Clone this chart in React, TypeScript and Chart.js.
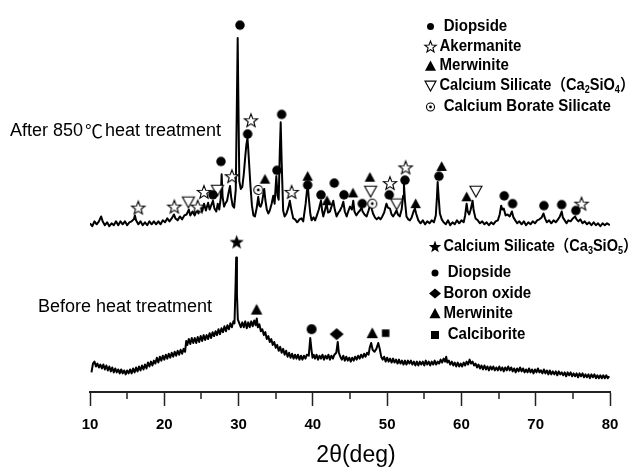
import { useEffect, useRef } from 'react';
import { Chart, registerables } from 'chart.js';

Chart.register(...registerables);

const FONT = "Arial, 'Liberation Sans', Helvetica, 'Noto Sans CJK SC', sans-serif";
const CJK_FONT = "'Noto Sans CJK SC', 'Noto Sans CJK JP', sans-serif";

// 2θ axis
const X_MIN = 10;
const X_MAX = 80;
const X_STEP = 10;
const minorTickValues = [15, 25, 35, 45, 55, 65, 75];
const Y_MAX = 392;

// After 850 ℃ heat treatment: [2θ (deg), intensity (a.u., offset)]
const afterScan: number[][] = [
  [10.0,172],[10.3,169],[10.6,174],[10.9,171],[11.2,174],[11.5,179],[11.7,174],[12.0,170],[12.3,173],[12.6,169],
  [12.9,172],[13.2,170],[13.5,174],[13.8,170],[14.1,174],[14.4,171],[14.7,174],[15.0,170],[15.3,173],[15.6,174],
  [15.9,176],[16.05,180],[16.2,175],[16.5,171],[16.8,174],[17.1,170],[17.4,173],[17.7,170],[18.0,174],[18.3,171],
  [18.6,174],[18.9,171],[19.2,174],[19.5,171],[19.8,175],[20.1,173],[20.4,177],[20.7,174],[21.0,177],[21.3,181],
  [21.5,177],[21.8,175],[22.1,179],[22.4,176],[22.7,180],[23.0,181],[23.3,186],[23.5,180],[23.8,184],[24.1,180],
  [24.4,186],[24.6,182],[24.85,189],[25.1,184],[25.35,192],[25.6,185],[25.9,193],[26.1,186],[26.35,191],[26.55,195],
  [26.75,187],[27.0,184],[27.2,192],[27.4,186],[27.6,198],[27.72,222],[27.85,199],[28.05,189],[28.2,192],[28.45,195],
  [28.65,203],[28.85,210],[29.0,199],[29.2,190],[29.4,188],[29.62,206],[29.78,300],[29.88,361],[29.97,300],[30.1,215],
  [30.3,207],[30.5,209],[30.7,222],[30.9,240],[31.05,252],[31.2,259],[31.3,248],[31.45,229],[31.6,210],[31.8,190],
  [32.0,180],[32.2,179],[32.45,188],[32.65,199],[32.8,190],[32.97,189],[33.15,193],[33.45,207],[33.6,196],[33.8,186],
  [34.0,182],[34.2,185],[34.45,192],[34.67,200],[34.85,192],[35.08,220],[35.25,200],[35.4,196],[35.55,245],[35.67,275],
  [35.8,235],[36.0,185],[36.2,179],[36.45,182],[36.7,188],[36.9,195],[37.1,186],[37.36,177],[37.6,176],[37.9,173],
  [38.2,176],[38.45,177],[38.7,174],[39.03,192],[39.2,205],[39.3,212],[39.45,198],[39.65,182],[39.83,175],[40.1,178],
  [40.3,175],[40.5,179],[40.8,186],[41.09,195],[41.25,185],[41.4,179],[41.65,186],[41.85,192],[42.05,183],[42.3,184],
  [42.55,190],[42.75,195],[42.95,186],[43.2,179],[43.45,183],[43.65,185],[43.9,189],[44.1,194],[44.3,184],[44.55,179],
  [44.8,185],[45.0,189],[45.25,186],[45.44,195],[45.6,184],[45.85,180],[46.1,183],[46.34,185],[46.55,188],[46.7,184],
  [46.95,181],[47.24,179],[47.5,185],[47.77,192],[47.95,186],[48.1,182],[48.35,178],[48.6,176],[48.85,178],[49.1,176],
  [49.35,179],[49.6,183],[49.9,192],[50.1,188],[50.38,187],[50.6,181],[50.8,179],[51.05,182],[51.26,185],[51.45,181],
  [51.7,179],[51.95,186],[52.15,200],[52.26,212],[52.4,195],[52.6,179],[52.85,176],[53.07,175],[53.3,178],[53.55,184],
  [53.74,187],[53.9,182],[54.2,175],[54.5,172],[54.8,175],[55.1,171],[55.4,174],[55.7,172],[56.0,175],[56.3,173],
  [56.55,180],[56.7,198],[56.8,214],[56.92,200],[57.1,182],[57.35,176],[57.6,173],[57.9,171],[58.2,175],[58.5,170],
  [58.8,173],[59.1,171],[59.4,175],[59.7,172],[60.0,175],[60.3,173],[60.5,180],[60.7,192],[60.85,184],[61.05,181],
  [61.25,186],[61.5,195],[61.65,185],[61.9,177],[62.2,175],[62.5,172],[62.8,174],[63.1,171],[63.4,173],[63.7,170],
  [64.0,173],[64.3,171],[64.6,174],[64.9,175],[65.15,181],[65.35,190],[65.5,186],[65.7,187],[65.95,180],[66.2,181],
  [66.5,179],[66.8,184],[67.0,178],[67.25,175],[67.5,172],[67.8,174],[68.1,171],[68.4,174],[68.7,170],[69.0,173],
  [69.3,171],[69.6,174],[69.9,172],[70.2,175],[70.5,176],[70.8,178],[71.05,182],[71.25,177],[71.5,173],[71.8,175],
  [72.1,172],[72.4,175],[72.7,173],[73.0,176],[73.25,179],[73.5,184],[73.65,178],[73.9,175],[74.15,172],[74.4,175],
  [74.7,174],[75.0,177],[75.3,179],[75.5,176],[75.75,174],[76.0,176],[76.3,172],[76.6,174],[76.9,171],[77.2,173],
  [77.5,170],[77.8,173],[78.1,170],[78.4,172],[78.7,169],[79.0,172],[79.3,170],[79.6,172],[80.0,170],
];

// Before heat treatment: [2θ (deg), intensity (a.u.)]
const beforeScan: number[][] = [
  [10.2,20],[10.4,29],[10.6,31],[10.8,26],[11.0,29],[11.2,25],[11.4,28],[11.6,24],[11.8,28],[12.0,23],
  [12.2,27],[12.4,22],[12.6,26],[12.8,21],[13.0,25],[13.2,20],[13.4,24],[13.6,20],[13.8,23],[14.0,19],
  [14.2,23],[14.4,19],[14.6,22],[14.8,18],[15.0,22],[15.2,19],[15.4,23],[15.6,19],[15.8,24],[16.0,20],
  [16.2,25],[16.4,21],[16.6,26],[16.8,22],[17.0,27],[17.2,23],[17.4,28],[17.6,24],[17.8,30],[18.0,26],
  [18.2,31],[18.4,27],[18.6,32],[18.8,29],[19.0,35],[19.2,30],[19.4,36],[19.6,32],[19.8,37],[20.0,33],
  [20.2,38],[20.4,34],[20.6,39],[20.8,35],[21.0,40],[21.2,36],[21.4,41],[21.6,37],[21.8,42],[22.0,38],
  [22.2,43],[22.4,39],[22.6,44],[22.8,41],[22.95,52],[23.1,48],[23.3,54],[23.5,49],[23.7,55],[23.9,50],
  [24.1,55],[24.3,50],[24.5,56],[24.7,51],[24.9,57],[25.1,52],[25.3,58],[25.5,53],[25.7,58],[25.9,54],
  [26.1,60],[26.3,55],[26.5,61],[26.7,57],[26.9,62],[27.1,58],[27.3,64],[27.5,59],[27.7,65],[27.9,61],
  [28.1,67],[28.3,62],[28.5,68],[28.7,64],[28.9,70],[29.1,66],[29.3,72],[29.45,70],[29.6,110],[29.68,137],
  [29.78,100],[29.9,74],[30.1,70],[30.3,66],[30.5,71],[30.7,66],[30.9,72],[31.1,65],[31.3,71],[31.5,66],
  [31.7,72],[31.9,67],[32.1,73],[32.3,68],[32.45,75],[32.6,66],[32.8,69],[33.0,62],[33.2,64],[33.4,58],
  [33.6,61],[33.8,54],[34.0,57],[34.2,51],[34.4,54],[34.6,48],[34.8,51],[35.0,45],[35.2,48],[35.4,42],
  [35.6,46],[35.8,40],[36.0,44],[36.2,38],[36.4,42],[36.6,36],[36.8,40],[37.0,35],[37.2,39],[37.4,34],
  [37.6,38],[37.8,34],[38.0,38],[38.2,33],[38.4,37],[38.6,33],[38.8,37],[39.0,34],[39.2,38],[39.45,37],
  [39.65,55],[39.8,44],[39.95,35],[40.1,38],[40.3,34],[40.5,38],[40.7,33],[40.9,37],[41.1,34],[41.3,38],
  [41.5,33],[41.7,37],[41.9,34],[42.1,38],[42.3,33],[42.5,37],[42.7,34],[42.9,38],[43.15,40],[43.35,51],
  [43.5,40],[43.7,36],[43.9,33],[44.1,37],[44.3,32],[44.5,36],[44.7,32],[44.9,35],[45.1,31],[45.3,35],
  [45.5,32],[45.7,36],[45.9,33],[46.1,37],[46.3,34],[46.5,38],[46.7,35],[46.9,39],[47.1,36],[47.3,40],
  [47.5,38],[47.65,45],[47.85,50],[48.05,43],[48.3,41],[48.55,44],[48.8,50],[49.0,44],[49.2,36],[49.4,33],
  [49.6,36],[49.8,31],[50.0,35],[50.2,31],[50.4,34],[50.6,30],[50.8,34],[51.0,30],[51.2,33],[51.4,29],
  [51.6,33],[51.8,29],[52.0,32],[52.2,28],[52.4,32],[52.6,28],[52.8,32],[53.0,29],[53.2,32],[53.4,28],
  [53.6,31],[53.8,27],[54.0,31],[54.2,27],[54.4,31],[54.6,28],[54.8,31],[55.0,27],[55.2,32],[55.4,28],
  [55.6,31],[55.8,27],[56.0,31],[56.2,28],[56.4,32],[56.6,28],[56.8,31],[57.0,29],[57.2,33],[57.4,30],
  [57.6,34],[57.8,31],[57.95,36],[58.1,30],[58.3,32],[58.5,28],[58.7,31],[58.9,27],[59.1,30],[59.3,26],
  [59.5,30],[59.7,26],[59.9,29],[60.1,26],[60.3,30],[60.5,27],[60.7,31],[60.9,28],[61.1,33],[61.3,29],
  [61.5,31],[61.7,27],[61.9,29],[62.1,25],[62.3,28],[62.5,24],[62.7,27],[62.9,23],[63.1,27],[63.3,23],
  [63.5,26],[63.7,22],[63.9,26],[64.1,23],[64.3,26],[64.5,22],[64.7,25],[64.9,22],[65.1,26],[65.3,22],
  [65.5,25],[65.7,21],[65.9,25],[66.1,22],[66.3,26],[66.5,22],[66.7,25],[66.9,21],[67.1,24],[67.3,20],
  [67.5,24],[67.7,21],[67.9,25],[68.1,21],[68.3,24],[68.5,20],[68.7,23],[68.9,20],[69.1,24],[69.3,20],
  [69.5,23],[69.7,19],[69.9,23],[70.1,20],[70.3,24],[70.5,20],[70.7,22],[70.9,19],[71.1,23],[71.3,19],
  [71.5,22],[71.7,18],[71.9,22],[72.1,18],[72.3,21],[72.5,18],[72.7,21],[72.9,17],[73.1,21],[73.3,18],
  [73.5,20],[73.7,17],[73.9,20],[74.1,16],[74.3,20],[74.5,17],[74.7,20],[74.9,16],[75.1,19],[75.3,16],
  [75.5,19],[75.7,15],[75.9,19],[76.1,16],[76.3,19],[76.5,15],[76.7,18],[76.9,15],[77.1,18],[77.3,14],
  [77.5,18],[77.7,15],[77.9,18],[78.1,14],[78.3,17],[78.5,14],[78.7,17],[78.9,14],[79.1,17],[79.3,14],
  [79.5,17],[79.7,14],[79.9,16],
];

// Phase markers set above the peaks: [2θ (deg), marker height (a.u.)]
const afterDiopside: number[][] = [
  [26.55,201],[27.63,235],[30.19,374],[31.22,263],[35.17,226],[35.8,283],[39.3,211],[41.09,201],[42.88,213],
  [44.19,201],[46.65,192],[50.28,201],[52.4,216],[56.97,220],[65.76,200],[66.89,192],[71.1,190],[73.49,191],[75.4,185],
];
const afterAkermanite: number[][] = [
  [16.5,188],[21.35,189],[24.5,189],[25.34,204],[29.1,220],[31.67,277],[37.15,204],[50.38,213],[52.49,229],[76.17,192],
];
const afterMerwinite: number[][] = [
  [33.55,217],[39.3,220],[41.9,195],[45.4,203],[47.68,219],[53.84,192],[57.34,230],[60.7,199],
];
const afterCa2SiO4: number[][] = [
  [23.25,194],[27.15,206],[47.77,205],[51.28,192],[61.95,205],
];
const afterBorateSilicate: number[][] = [
  [32.65,206],[48.0,192],
];
const beforeCa3SiO5: number[][] = [[29.74,153]];
const beforeMerwinite: number[][] = [[32.43,84],[48.0,60]];
const beforeDiopside: number[][] = [[39.83,64]];
const beforeBoronOxide: number[][] = [[43.2,59]];
const beforeCalciborite: number[][] = [[49.8,60]];

type Mark = 'dot' | 'starOpen' | 'starSolid' | 'triUp' | 'triDown' | 'ringDot' | 'diamond' | 'square';
type KeyItem = { mark: Mark; size: number; text: string[]; fit?: number };

// Legend entries; odd-indexed text parts are subscripts
const afterLegend: KeyItem[] = [
  { mark: 'dot', size: 7, text: [' Diopside'] },
  { mark: 'starOpen', size: 12, text: ['Akermanite'] },
  { mark: 'triUp', size: 11, text: ['Merwinite'] },
  { mark: 'triDown', size: 11, text: ['Calcium Silicate（Ca', '2', 'SiO', '4', '）'], fit: 195 },
  { mark: 'ringDot', size: 9, text: [' Calcium Borate Silicate'] },
];
const beforeLegend: KeyItem[] = [
  { mark: 'starSolid', size: 13, text: ['Calcium Silicate（Ca', '3', 'SiO', '5', '）'], fit: 194 },
  { mark: 'dot', size: 7, text: [' Diopside'] },
  { mark: 'diamond', size: 12, text: ['Boron oxide'] },
  { mark: 'triUp', size: 11, text: ['Merwinite'] },
  { mark: 'square', size: 8, text: [' Calciborite'] },
];

function starPath(ctx: CanvasRenderingContext2D, cx: number, cy: number, R: number, r: number) {
  for (let i = 0; i < 10; i++) {
    const rad = (Math.PI / 5) * i - Math.PI / 2;
    const rr = i % 2 === 0 ? R : r;
    const px = cx + Math.cos(rad) * rr;
    const py = cy + Math.sin(rad) * rr;
    if (i === 0) ctx.moveTo(px, py);
    else ctx.lineTo(px, py);
  }
  ctx.closePath();
}

function drawMark(ctx: CanvasRenderingContext2D, mark: Mark, cx: number, cy: number, s: number) {
  const h = s / 2;
  ctx.save();
  ctx.lineWidth = 1.1;
  ctx.strokeStyle = '#000';
  ctx.fillStyle = '#000';
  ctx.beginPath();
  switch (mark) {
    case 'dot':
      ctx.arc(cx, cy, h, 0, Math.PI * 2);
      ctx.fill();
      break;
    case 'starOpen':
      starPath(ctx, cx, cy + 0.6, h, h * 0.42);
      ctx.fillStyle = '#fff';
      ctx.fill();
      ctx.stroke();
      break;
    case 'starSolid':
      starPath(ctx, cx, cy + 0.6, h, h * 0.42);
      ctx.fill();
      break;
    case 'triUp':
      ctx.moveTo(cx, cy - h);
      ctx.lineTo(cx + h, cy + h * 0.85);
      ctx.lineTo(cx - h, cy + h * 0.85);
      ctx.closePath();
      ctx.fill();
      break;
    case 'triDown':
      ctx.moveTo(cx - h, cy - h * 0.8);
      ctx.lineTo(cx + h, cy - h * 0.8);
      ctx.lineTo(cx, cy + h);
      ctx.closePath();
      ctx.fillStyle = '#fff';
      ctx.fill();
      ctx.stroke();
      break;
    case 'ringDot':
      ctx.arc(cx, cy, h - 0.5, 0, Math.PI * 2);
      ctx.fillStyle = '#fff';
      ctx.fill();
      ctx.stroke();
      ctx.beginPath();
      ctx.fillStyle = '#000';
      ctx.arc(cx, cy, 1.4, 0, Math.PI * 2);
      ctx.fill();
      break;
    case 'diamond':
      ctx.moveTo(cx, cy - h * 0.85);
      ctx.lineTo(cx + h, cy);
      ctx.lineTo(cx, cy + h * 0.85);
      ctx.lineTo(cx - h, cy);
      ctx.closePath();
      ctx.fill();
      break;
    case 'square':
      ctx.rect(cx - h, cy - h, s, s);
      ctx.fill();
      break;
  }
  ctx.restore();
}

function markImage(mark: Mark, size: number): HTMLCanvasElement {
  const c = document.createElement('canvas');
  const dim = Math.ceil(size + 4);
  c.width = dim;
  c.height = dim;
  const ctx = c.getContext('2d');
  if (ctx) drawMark(ctx, mark, dim / 2, dim / 2, size);
  return c;
}

const KEY_FONT = `bold 16px ${FONT}`;
const KEY_SUB_FONT = `bold 10px ${FONT}`;

function drawLegend(ctx: CanvasRenderingContext2D, items: KeyItem[], markX: number, textX: number, rows: number[]) {
  items.forEach((it, i) => {
    const y = rows[i];
    drawMark(ctx, it.mark, markX, y, it.size);
    let natural = 0;
    it.text.forEach((part, k) => {
      ctx.font = k % 2 === 1 ? KEY_SUB_FONT : KEY_FONT;
      natural += ctx.measureText(part).width;
    });
    // long formula lines are fitted to their width, the rest share one condensing factor
    const sx = it.fit ? it.fit / natural : 0.94;
    ctx.save();
    ctx.translate(textX, y);
    ctx.scale(sx, 1);
    let x = 0;
    it.text.forEach((part, k) => {
      const sub = k % 2 === 1;
      ctx.font = sub ? KEY_SUB_FONT : KEY_FONT;
      ctx.fillText(part, x, sub ? 5 : 0);
      x += ctx.measureText(part).width;
    });
    ctx.restore();
  });
}

const overlay = {
  id: 'xrdOverlay',
  afterDraw(chart: Chart) {
    const { ctx } = chart;
    const xs = chart.scales.x;
    ctx.save();
    // minor ticks between the labelled ones
    ctx.strokeStyle = '#222';
    ctx.lineWidth = 1.5;
    for (const v of minorTickValues) {
      const px = Math.round(xs.getPixelForValue(v));
      ctx.beginPath();
      ctx.moveTo(px, xs.top);
      ctx.lineTo(px, xs.top + 7);
      ctx.stroke();
    }
    ctx.fillStyle = '#000';
    ctx.textBaseline = 'middle';

    // axis title
    ctx.textAlign = 'center';
    ctx.font = `23px ${FONT}`;
    ctx.fillText('2θ(deg)', 356, 456);

    // trace captions
    ctx.textAlign = 'left';
    ctx.font = `18px ${FONT}`;
    const head = 'After 850';
    ctx.fillText(head, 10, 131);
    let x = 10 + ctx.measureText(head).width + 2;
    ctx.font = `18px ${CJK_FONT}`;
    ctx.fillText('℃', x, 131);
    x += ctx.measureText('℃').width + 2;
    ctx.font = `18px ${FONT}`;
    ctx.fillText('heat treatment', x, 131);
    ctx.textAlign = 'right';
    ctx.fillText('Before heat treatment', 212, 307);

    // phase keys
    ctx.textAlign = 'left';
    drawLegend(ctx, afterLegend, 430.5, 439.5, [26.5, 46.5, 66, 85.5, 107]);
    drawLegend(ctx, beforeLegend, 435, 443.5, [246.5, 273, 293.5, 313.5, 335]);
    ctx.restore();
  },
};

const toXY = (pts: number[][]) => pts.map(([x, y]) => ({ x, y }));

export default function App() {
  const ref = useRef<HTMLCanvasElement>(null);

  useEffect(() => {
    const canvas = ref.current;
    if (!canvas) return;

    const markers = (pts: number[][], mark: Mark, size: number) => ({
      data: toXY(pts),
      showLine: false,
      pointStyle: markImage(mark, size),
      pointRadius: size / 2,
      pointHoverRadius: size / 2,
      borderWidth: 0,
      borderColor: 'rgba(0,0,0,0)',
      backgroundColor: 'rgba(0,0,0,0)',
    });
    const trace = (pts: number[][]) => ({
      data: toXY(pts),
      borderColor: '#000',
      borderWidth: 2,
      borderJoinStyle: 'round' as const,
      pointRadius: 0,
      pointHoverRadius: 0,
      tension: 0,
      fill: false,
    });

    const chart = new Chart(canvas, {
      type: 'line',
      data: {
        datasets: [
          { label: 'Diopside', ...markers(afterDiopside, 'dot', 9.5) },
          { label: 'Akermanite', ...markers(afterAkermanite, 'starOpen', 14) },
          { label: 'Merwinite', ...markers(afterMerwinite, 'triUp', 10.5) },
          { label: 'Ca2SiO4', ...markers(afterCa2SiO4, 'triDown', 12) },
          { label: 'Calcium Borate Silicate', ...markers(afterBorateSilicate, 'ringDot', 10) },
          { label: 'Ca3SiO5', ...markers(beforeCa3SiO5, 'starSolid', 15) },
          { label: 'Merwinite (before)', ...markers(beforeMerwinite, 'triUp', 11.5) },
          { label: 'Diopside (before)', ...markers(beforeDiopside, 'dot', 10) },
          { label: 'Boron oxide', ...markers(beforeBoronOxide, 'diamond', 14) },
          { label: 'Calciborite', ...markers(beforeCalciborite, 'square', 7.5) },
          { label: 'After 850 ℃', ...trace(afterScan) },
          { label: 'Before', ...trace(beforeScan) },
        ],
      },
      options: {
        responsive: false,
        animation: false,
        events: [],
        layout: { padding: { left: 90, right: 23, top: 0, bottom: 26 } },
        plugins: { legend: { display: false }, tooltip: { enabled: false } },
        scales: {
          x: {
            type: 'linear',
            min: X_MIN,
            max: X_MAX,
            ticks: {
              stepSize: X_STEP,
              color: '#000',
              padding: 10,
              maxRotation: 0,
              font: { family: FONT, size: 15, weight: 'bold' },
            },
            grid: {
              drawOnChartArea: false,
              drawTicks: true,
              tickLength: 14,
              tickWidth: 1.5,
              tickColor: '#222',
            },
            border: { display: true, color: '#222', width: 2 },
          },
          y: { display: false, min: 0, max: Y_MAX },
        },
      },
      plugins: [overlay],
    });

    return () => chart.destroy();
  }, []);

  return (
    <div style={{ position: 'absolute', left: 0, top: 0, width: 633, height: 470, background: '#fff' }}>
      <canvas ref={ref} width={633} height={470} style={{ display: 'block' }} />
    </div>
  );
}
